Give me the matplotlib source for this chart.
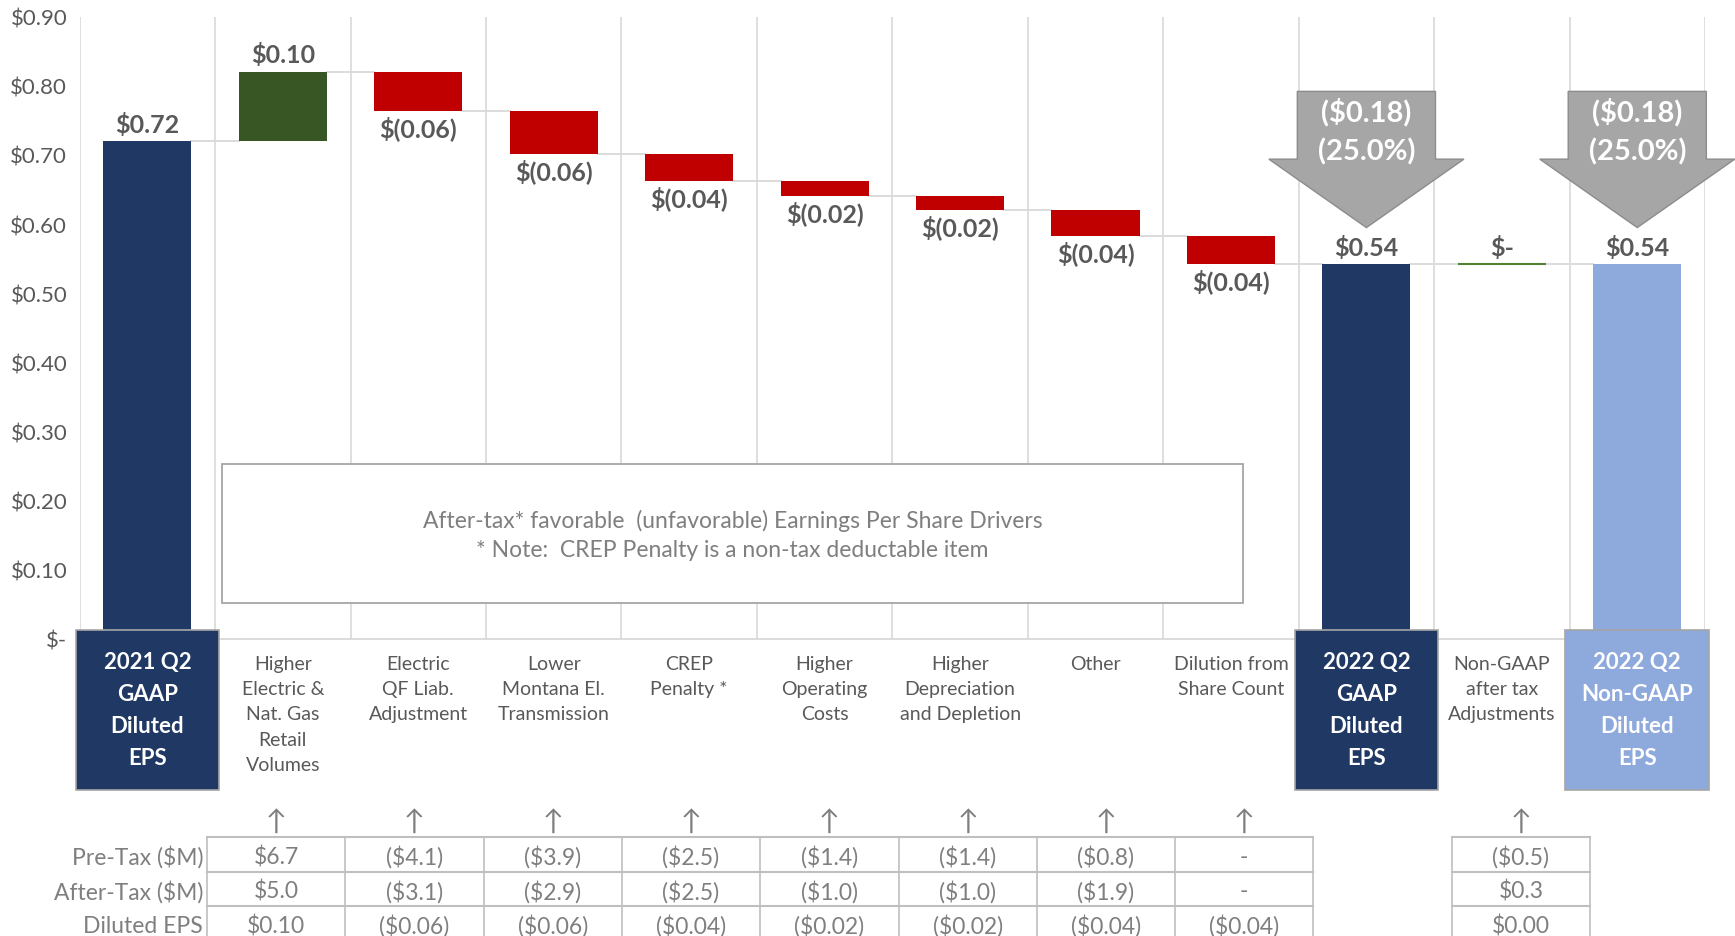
import numpy as np
import matplotlib.pyplot as plt
from matplotlib.patches import Rectangle, Polygon

plt.rcParams['font.family'] = ['Lato', 'DejaVu Sans']

# ---- data ----
categories = ["2021 Q2\nGAAP\nDiluted\nEPS",
              "Higher\nElectric &\nNat. Gas\nRetail\nVolumes",
              "Electric\nQF Liab.\nAdjustment",
              "Lower\nMontana El.\nTransmission",
              "CREP\nPenalty *",
              "Higher\nOperating\nCosts",
              "Higher\nDepreciation\nand Depletion",
              "Other",
              "Dilution from\nShare Count",
              "2022 Q2\nGAAP\nDiluted\nEPS",
              "Non-GAAP\nafter tax\nAdjustments",
              "2022 Q2\nNon-GAAP\nDiluted\nEPS"]
start_eps = 0.72
drivers = [0.100, -0.057, -0.061, -0.039, -0.022, -0.020, -0.038, -0.041]
nongaap_adj = 0.0
value_labels = ["$0.72", "$0.10", "$(0.06)", "$(0.06)", "$(0.04)", "$(0.02)",
                "$(0.02)", "$(0.04)", "$(0.04)", "$0.54", "$-", "$0.54"]
change_label = "($0.18)\n(25.0%)"

row_names = ["Pre-Tax ($M)", "After-Tax ($M)", "Diluted EPS"]
pretax = ["$6.7", "($4.1)", "($3.9)", "($2.5)", "($1.4)", "($1.4)", "($0.8)", "-", "($0.5)"]
aftertax = ["$5.0", "($3.1)", "($2.9)", "($2.5)", "($1.0)", "($1.0)", "($1.9)", "-", "$0.3"]
dil_eps = ["$0.10", "($0.06)", "($0.06)", "($0.04)", "($0.02)", "($0.02)", "($0.04)", "($0.04)", "$0.00"]
table_cols = [0, 1, 2, 3, 4, 5, 6, 7, 9]

note = "After-tax* favorable  (unfavorable) Earnings Per Share Drivers\n* Note:  CREP Penalty is a non-tax deductable item"

navy = '#203864'
green = '#375623'
red = '#C00000'
lblue = '#8EA9DB'
txt = '#595959'
grid = '#D9D9D9'

W, H = 1735, 937
fig = plt.figure(figsize=(W / 100, H / 100), dpi=100)
ax = fig.add_axes([79.7 / W, 1 - 640 / H, (1705 - 79.7) / W, (640 - 17.7) / H])
ax.set_xlim(-0.5, 11.5)
ax.set_ylim(0, 0.9)

bw = 0.65
levels = np.concatenate([[start_eps], start_eps + np.cumsum(drivers)])
gaap_2022 = levels[-1]
nongaap_2022 = gaap_2022 + nongaap_adj

# totals
ax.bar(0, start_eps, width=bw, color=navy, zorder=3)
ax.bar(9, gaap_2022, width=bw, color=navy, zorder=3)
ax.bar(11, nongaap_2022, width=bw, color=lblue, zorder=3)
ax.bar(10, nongaap_adj, bottom=gaap_2022, width=bw, color=green,
       edgecolor='#548235', linewidth=1.5, zorder=3)

# drivers
for i, d in enumerate(drivers):
    x = i + 1
    bot = min(levels[i], levels[i + 1])
    ax.bar(x, abs(d), bottom=bot, width=bw, color=green if d > 0 else red, zorder=3)

# connectors
ends = list(levels) + [gaap_2022, nongaap_2022, nongaap_2022]
for i in range(len(ends) - 1):
    ax.plot([i + bw / 2, i + 1 - bw / 2], [ends[i], ends[i]], color=grid, lw=1.3, zorder=2)

# value labels
tops = [start_eps] + [max(levels[i], levels[i + 1]) for i in range(len(drivers))] + [gaap_2022, nongaap_2022, nongaap_2022]
bots = [0] + [min(levels[i], levels[i + 1]) for i in range(len(drivers))] + [0, gaap_2022, 0]
signs = [1] + [np.sign(d) for d in drivers] + [1, 1, 1]
for i, lab in enumerate(value_labels):
    if signs[i] >= 0:
        ax.annotate(lab, (i, tops[i]), xytext=(0, 4), textcoords='offset points',
                    ha='center', va='bottom', fontsize=18, fontweight='bold', color=txt)
    else:
        ax.annotate(lab, (i, bots[i]), xytext=(0, -3), textcoords='offset points',
                    ha='center', va='top', fontsize=18, fontweight='bold', color=txt)

# change arrows
for cx in [9, 11]:
    top, neck, tip = 0.792, 0.694, 0.595
    pts = [(cx - 0.51, top), (cx + 0.51, top), (cx + 0.51, neck), (cx + 0.72, neck),
           (cx, tip), (cx - 0.72, neck), (cx - 0.51, neck)]
    ax.add_patch(Polygon(pts, closed=True, facecolor='#A6A6A6', edgecolor='#8C8C8C',
                         lw=1, zorder=5, clip_on=False))
    ax.text(cx, 0.735, change_label, ha='center', va='center', color='white',
            fontsize=21, fontweight='bold', linespacing=1.55, zorder=6)

# note box
ax.add_patch(Rectangle((0.55, 0.052), 7.54, 0.201, facecolor='white',
                       edgecolor='#A6A6A6', lw=1.3, zorder=2))
ax.text(0.55 + 7.54 / 2, 0.151, note, ha='center', va='center', fontsize=16.5,
        color='#7F7F7F', linespacing=1.5, zorder=3)

# axes styling
ax.set_yticks(np.arange(0, 0.91, 0.1))
ax.set_yticklabels(['$-'] + ['$%.2f' % v for v in np.arange(0.1, 0.91, 0.1)])
ax.tick_params(axis='y', length=0, pad=9, labelsize=16, labelcolor=txt)
ax.set_xticks([])
ax.set_xticks(np.arange(-0.5, 12, 1), minor=True)
ax.tick_params(axis='x', which='both', length=0)
ax.grid(axis='x', which='minor', color=grid, lw=1.2, zorder=0)
for s in ['top', 'right', 'left']:
    ax.spines[s].set_visible(False)
ax.spines['bottom'].set_color(grid)
ax.spines['bottom'].set_linewidth(1.3)

# category labels
xt = ax.get_xaxis_transform()
box_colors = {0: navy, 9: navy, 11: lblue}
for i, lab in enumerate(categories):
    if i in box_colors:
        ax.add_patch(Rectangle((i - 0.53, -0.242), 1.06, 0.256, transform=xt,
                               facecolor=box_colors[i], edgecolor='#A6A6A6', lw=1.2,
                               clip_on=False, zorder=7))
        ax.text(i, -0.113, lab, transform=xt, ha='center', va='center', color='white',
                fontsize=16, fontweight='bold', linespacing=1.65, zorder=8)
    else:
        ax.text(i, -0.025, lab, transform=xt, ha='center', va='top', color=txt,
                fontsize=14, linespacing=1.6)

# table below in pixel coordinates
tb = fig.add_axes([0, 0, 1, 1], facecolor='none')
tb.set_xlim(0, W)
tb.set_ylim(H, 0)
tb.axis('off')
col0, colw = 207, 138.3
ttop, rowh = 838, 34.5
tcol = '#7F7F7F'
lcol = '#BFBFBF'
for r, name in enumerate(row_names):
    tb.text(203, ttop + rowh * (r + 0.5) + 2, name, ha='right', va='center', fontsize=16.5, color=tcol)
for k, c in enumerate(table_cols):
    xl = col0 + c * colw
    xc = xl + colw / 2
    tb.text(xc, 822, '\u2191', ha='center', va='center', fontsize=20, color=tcol)
    for r, vals in enumerate([pretax, aftertax, dil_eps]):
        tb.text(xc, ttop + rowh * (r + 0.5) + 2, vals[k], ha='center', va='center',
                fontsize=16.5, color=tcol)
# grid of the table
for seg in [(0, 8), (9, 10)]:
    x0, x1 = col0 + seg[0] * colw, col0 + seg[1] * colw
    for r in range(4):
        tb.plot([x0, x1], [ttop + r * rowh, ttop + r * rowh], color=lcol, lw=1.5)
    for c in range(seg[0], seg[1] + 1):
        xx = col0 + c * colw
        tb.plot([xx, xx], [ttop, H], color=lcol, lw=1.2)

fig.savefig('out.png', dpi=100)
